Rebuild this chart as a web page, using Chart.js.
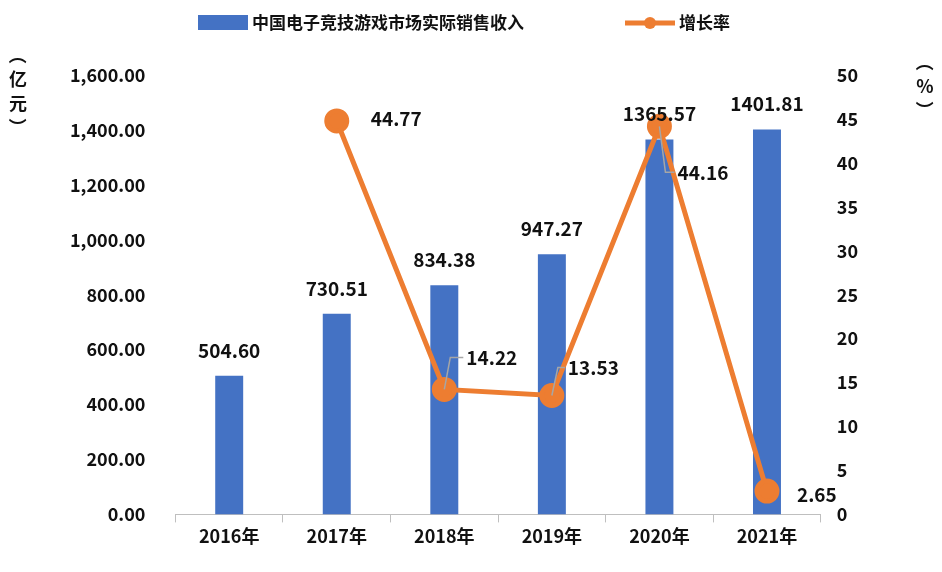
<!DOCTYPE html>
<html><head><meta charset="utf-8">
<script src="https://cdn.jsdelivr.net/npm/chart.js@4/dist/chart.umd.min.js"></script>
<style>html,body{margin:0;padding:0;background:#fff}#w{width:942px;height:572px}</style>
</head><body><div id="w"><canvas id="c"></canvas></div>
<script>
const categories=["2016年","2017年","2018年","2019年","2020年","2021年"];
const revenue=[504.60,730.51,834.38,947.27,1365.57,1401.81];
const growth=[null,44.77,14.22,13.53,44.16,2.65];
const leftTicks=[0,200,400,600,800,1000,1200,1400,1600];
const barName="中国电子竞技游戏市场实际销售收入", lineName="增长率";
const F='"Noto Sans CJK SC","Noto Sans",sans-serif';
const BLUE='#4472C4', ORANGE='#ED7D31';
const lineLblOff=[null,[34,-2,false],[22,-32,true],[16,-28,true],[18,46,true],[30,4,false]];
const labels={id:'lbl',afterDatasetsDraw(ch){
  const c=ch.ctx;c.save();c.font='bold 19px '+F;c.fillStyle='#111';
  const m0=ch.getDatasetMeta(0),m1=ch.getDatasetMeta(1);
  c.textAlign='center';c.textBaseline='bottom';
  revenue.forEach((v,i)=>{const e=m0.data[i];c.fillText(v.toFixed(2),e.x,e.y-16);});
  c.textAlign='left';c.textBaseline='middle';
  growth.forEach((v,i)=>{if(v==null)return;const e=m1.data[i],o=lineLblOff[i];
    const lx=e.x+o[0],ly=e.y+o[1];
    if(o[2]){c.strokeStyle='#A6A6A6';c.lineWidth=1.5;c.beginPath();c.moveTo(e.x,e.y);c.lineTo(e.x+6,ly);c.lineTo(lx-3,ly);c.stroke();}
    c.fillText(v.toFixed(2),lx,ly);});
  c.fillStyle=BLUE;c.fillRect(198,15,50,15);
  c.fillStyle='#111';c.font='bold 17px '+F;c.fillText(barName,252,23);
  c.strokeStyle=ORANGE;c.lineWidth=5;c.beginPath();c.moveTo(625,23);c.lineTo(675,23);c.stroke();
  c.fillStyle=ORANGE;c.beginPath();c.arc(650,23,6,0,7);c.fill();
  c.fillStyle='#111';c.fillText(lineName,679,23);
  c.font='bold 18px '+F;c.textAlign='center';
  ['（','亿','元','）'].forEach((t,k)=>{c.save();c.translate(18,55+k*24);if(k==0||k==3)c.rotate(Math.PI/2);c.fillText(t,0,0);c.restore();});
  ['（','%','）'].forEach((t,k)=>{c.save();c.translate(925,62+k*24);if(k!=1)c.rotate(Math.PI/2);c.fillText(t,0,0);c.restore();});
  c.restore();}};
new Chart(document.getElementById('c'),{
 data:{labels:categories,datasets:[
  {type:'bar',label:barName,data:revenue,backgroundColor:BLUE,yAxisID:'y',barPercentage:0.26,categoryPercentage:1,order:2},
  {type:'line',label:lineName,data:growth,borderColor:ORANGE,backgroundColor:ORANGE,borderWidth:5,pointRadius:10,pointHoverRadius:10,yAxisID:'y1',order:1}]},
 options:{responsive:true,maintainAspectRatio:false,animation:false,
  layout:{padding:{top:75,left:48,right:76,bottom:22}},
  plugins:{legend:{display:false},tooltip:{enabled:false}},
  scales:{
   x:{grid:{display:true,drawOnChartArea:false,tickLength:8,color:'#BFBFBF'},border:{color:'#BFBFBF'},ticks:{color:'#111',font:{family:F,size:18,weight:'bold'}}},
   y:{min:0,max:1600,afterBuildTicks:a=>{a.ticks=leftTicks.map(v=>({value:v}))},grid:{display:false},border:{display:false},
      ticks:{color:'#111',padding:22,font:{family:F,size:18,weight:'bold'},callback:v=>v.toLocaleString('en-US',{minimumFractionDigits:2})}},
   y1:{position:'right',min:0,max:50,grid:{display:false},border:{display:false},
      ticks:{stepSize:5,color:'#111',padding:8,font:{family:F,size:18,weight:'bold'}}}}},
 plugins:[labels]});
</script></body></html>
